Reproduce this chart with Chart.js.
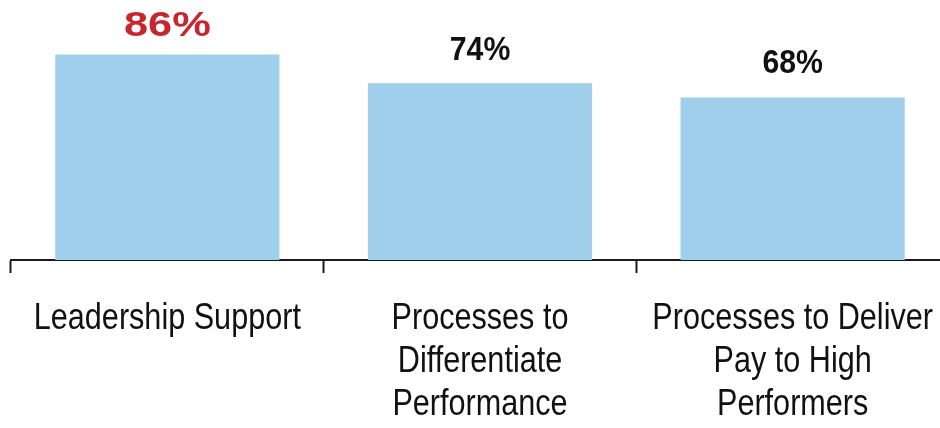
<!DOCTYPE html>
<html>
<head>
<meta charset="utf-8">
<script src="https://cdn.jsdelivr.net/npm/chart.js@4/dist/chart.umd.min.js"></script>
<style>
  html, body { margin: 0; padding: 0; background: #fff; overflow: hidden; }
  #wrap { position: relative; width: 952px; height: 428px; }
</style>
</head>
<body>
<div id="wrap"><canvas id="c"></canvas></div>
<script>
const categories = [
  ["Leadership Support"],
  ["Processes to", "Differentiate", "Performance"],
  ["Processes to Deliver", "Pay to High", "Performers"]
];
const values = [86, 74, 68];
const valueLabels = ["86%", "74%", "68%"];

// styling (kept separate from data)
const labelColors = ["#C8262F", "#111111", "#111111"];
const labelSizes = [35, 34, 34];
const labelStretch = [1.24, 0.89, 0.89];
const labelGaps = [18, 23, 24];

const valueLabelPlugin = {
  id: 'valueLabels',
  afterDatasetsDraw(chart) {
    const ctx = chart.ctx;
    const meta = chart.getDatasetMeta(0);
    meta.data.forEach((bar, i) => {
      ctx.save();
      ctx.font = "bold " + labelSizes[i] + "px 'Liberation Sans', Arial, sans-serif";
      ctx.fillStyle = labelColors[i];
      ctx.textAlign = 'center';
      ctx.textBaseline = 'alphabetic';
      ctx.translate(bar.x, bar.y - labelGaps[i]);
      ctx.scale(labelStretch[i], 1);
      ctx.fillText(valueLabels[i], 0, 0);
      ctx.restore();
    });
  }
};

// category labels drawn in a condensed style (Arial Narrow look)
const categoryLabelPlugin = {
  id: 'categoryLabels',
  afterDraw(chart) {
    const ctx = chart.ctx;
    const xs = chart.scales.x;
    const base = chart.chartArea.bottom;
    chart.data.labels.forEach((lines, i) => {
      const x = xs.getPixelForTick(i);
      lines.forEach((line, j) => {
        ctx.save();
        ctx.font = "36px 'Liberation Sans', Arial, sans-serif";
        ctx.fillStyle = '#111111';
        ctx.textAlign = 'center';
        ctx.textBaseline = 'alphabetic';
        ctx.translate(x, base + 69 + j * 43);
        ctx.scale(0.85, 1);
        ctx.fillText(line, 0, 0);
        ctx.restore();
      });
    });
  }
};

new Chart(document.getElementById('c'), {
  type: 'bar',
  data: {
    labels: categories,
    datasets: [{
      data: values,
      backgroundColor: '#A0CFEB',
      borderWidth: 0,
      barPercentage: 0.717,
      categoryPercentage: 1.0
    }]
  },
  options: {
    responsive: true,
    maintainAspectRatio: false,
    animation: false,
    events: [],
    layout: { padding: { left: 11, right: 3, top: 21, bottom: 155 } },
    plugins: { legend: { display: false }, tooltip: { enabled: false } },
    scales: {
      x: {
        offset: true,
        grid: {
          offset: true,
          drawOnChartArea: false,
          drawTicks: true,
          tickLength: 13,
          tickWidth: 2,
          tickColor: '#1a1a1a'
        },
        border: { display: true, color: '#1a1a1a', width: 2 },
        ticks: { display: false }
      },
      y: {
        display: false,
        min: 0,
        max: 100
      }
    }
  },
  plugins: [valueLabelPlugin, categoryLabelPlugin]
});
</script>
</body>
</html>
